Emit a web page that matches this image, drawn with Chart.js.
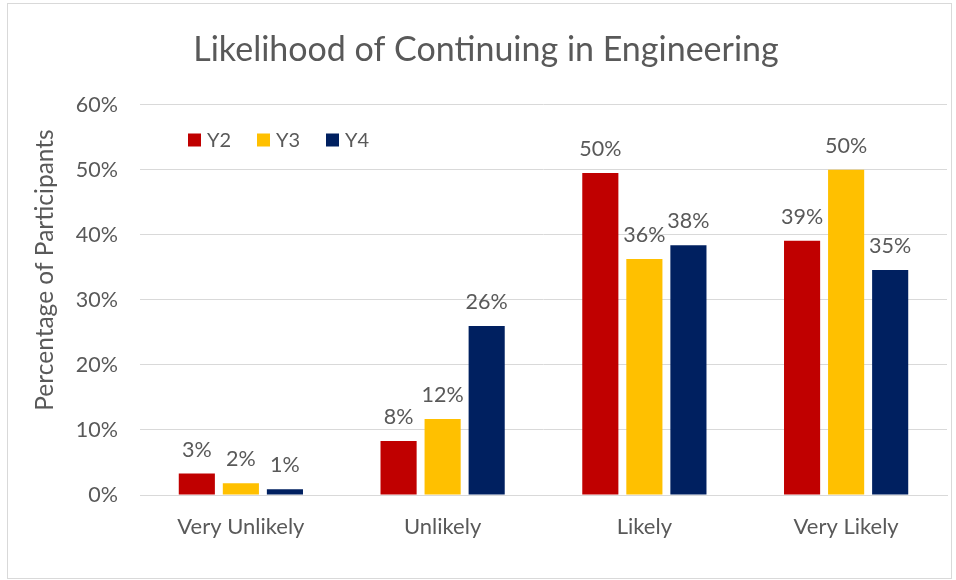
<!DOCTYPE html>
<html>
<head>
<meta charset="utf-8">
<title>Likelihood of Continuing in Engineering</title>
<script src="https://cdn.jsdelivr.net/npm/chart.js@4"></script>
<style>
  html, body { margin: 0; padding: 0; background: #fff; }
  #wrap { width: 956px; height: 580px; position: relative; }
</style>
</head>
<body>
<div id="wrap"><canvas id="likelihoodChart"></canvas></div>
<script>
// survey answers, share of participants (%) per year group
var categories = ['Very Unlikely', 'Unlikely', 'Likely', 'Very Likely'];
var seriesNames = ['Y2', 'Y3', 'Y4'];
var y2Values = [3.3, 8.3, 49.5, 39.1];
var y3Values = [1.8, 11.7, 36.3, 50.0];
var y4Values = [0.9, 26.0, 38.4, 34.6];
var yTicks = [0, 10, 20, 30, 40, 50, 60];

var seriesColors = ['#C00000', '#FFC000', '#002060'];
var textGray = '#595959';
var lineGray = '#D9D9D9';
var fontFamily = 'Lato, "Open Sans", sans-serif';

// frame, value labels, legend and rotated axis title
var decorations = {
    id: 'decorations',
    beforeDraw: function(chart) {
        var c = chart.ctx;
        c.save();
        c.strokeStyle = lineGray;
        c.lineWidth = 1;
        c.strokeRect(7.5, 3.5, 944, 575);
        c.restore();
    },
    afterDatasetsDraw: function(chart) {
        var c = chart.ctx;
        c.save();
        c.font = '21.5px ' + fontFamily;
        c.fillStyle = textGray;
        c.textAlign = 'center';
        c.textBaseline = 'alphabetic';
        chart.data.datasets.forEach(function(ds, i) {
            chart.getDatasetMeta(i).data.forEach(function(bar, j) {
                c.fillText(Math.round(ds.data[j]) + '%', bar.x, bar.y - 17);
            });
        });

        // legend in the upper left of the plot
        var area = chart.chartArea;
        var x = area.left + 48;
        var y = 140;
        c.font = '20px ' + fontFamily;
        c.textAlign = 'left';
        c.textBaseline = 'middle';
        chart.data.datasets.forEach(function(ds) {
            c.fillStyle = ds.backgroundColor;
            c.fillRect(x, y - 6.5, 13, 13);
            c.fillStyle = textGray;
            c.fillText(ds.label, x + 19, y + 1);
            x += 69;
        });

        // y axis title
        c.translate(45, 270);
        c.rotate(-Math.PI / 2);
        c.font = '24.5px ' + fontFamily;
        c.textAlign = 'center';
        c.fillText('Percentage of Participants', 0, 0);
        c.restore();
    }
};

var ctx = document.getElementById('likelihoodChart').getContext('2d');

var likelihoodChart = new Chart(ctx, {
    type: 'bar',
    data: {
        labels: categories,
        datasets: [
            { label: seriesNames[0], data: y2Values, backgroundColor: seriesColors[0] },
            { label: seriesNames[1], data: y3Values, backgroundColor: seriesColors[1] },
            { label: seriesNames[2], data: y4Values, backgroundColor: seriesColors[2] }
        ]
    },
    options: {
        responsive: true,
        maintainAspectRatio: false,
        animation: false,
        categoryPercentage: 0.655,
        barPercentage: 0.82,
        layout: {
            padding: { left: 25, right: 9, top: 14, bottom: 40 }
        },
        plugins: {
            legend: { display: false },
            tooltip: { enabled: false },
            title: {
                display: true,
                text: 'Likelihood of Continuing in Engineering',
                color: textGray,
                font: { family: fontFamily, size: 34, weight: 'normal' },
                padding: { top: 16, bottom: 34 }
            }
        },
        scales: {
            x: {
                afterFit: function(scale) { scale.height = 45; },
                grid: { display: false, drawTicks: false },
                border: { color: lineGray, width: 1 },
                ticks: {
                    color: textGray,
                    font: { family: fontFamily, size: 22 },
                    padding: 19
                }
            },
            y: {
                min: 0,
                max: 60,
                afterFit: function(scale) { scale.width = 115; },
                afterBuildTicks: function(scale) {
                    scale.ticks = yTicks.map(function(v) { return { value: v }; });
                },
                grid: { color: lineGray, drawTicks: false },
                border: { display: false },
                ticks: {
                    color: textGray,
                    font: { family: fontFamily, size: 21.5 },
                    padding: 22,
                    callback: function(v) { return v + '%'; }
                }
            }
        }
    },
    plugins: [decorations]
});
</script>
</body>
</html>
